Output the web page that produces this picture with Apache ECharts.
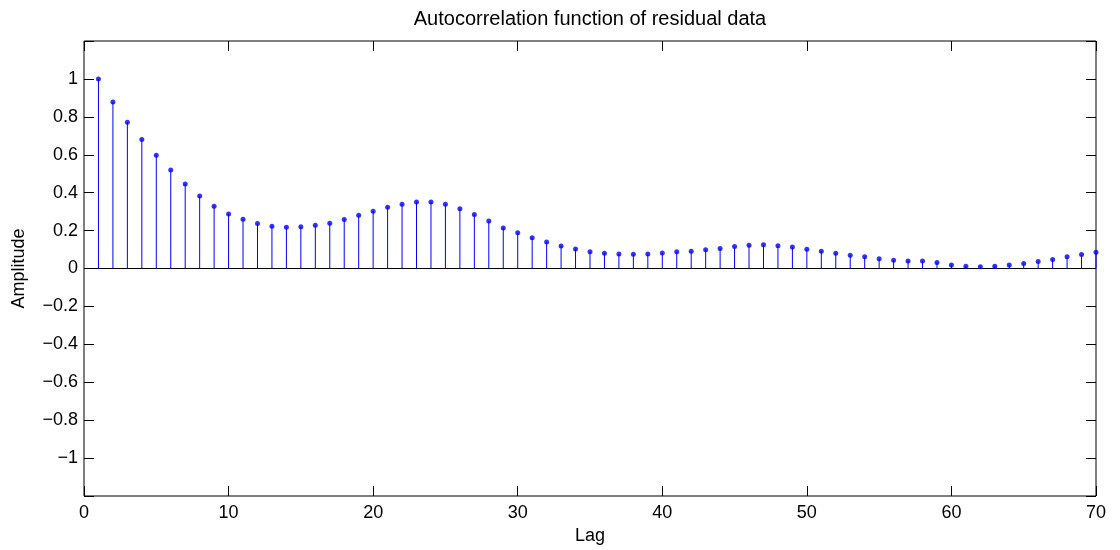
<!DOCTYPE html>
<html>
<head>
<meta charset="utf-8">
<title>Autocorrelation function of residual data</title>
<script src="https://cdn.jsdelivr.net/npm/echarts@6/dist/echarts.min.js"></script>
<style>
  html, body { margin: 0; padding: 0; background: #fff; }
  #chart { width: 1120px; height: 550px; }
</style>
</head>
<body>
<div id="chart"></div>
<script>
// Lags of the autocorrelation sequence
const lags = [
  1, 2, 3, 4, 5, 6, 7, 8, 9, 10,
  11, 12, 13, 14, 15, 16, 17, 18, 19, 20,
  21, 22, 23, 24, 25, 26, 27, 28, 29, 30,
  31, 32, 33, 34, 35, 36, 37, 38, 39, 40,
  41, 42, 43, 44, 45, 46, 47, 48, 49, 50,
  51, 52, 53, 54, 55, 56, 57, 58, 59, 60,
  61, 62, 63, 64, 65, 66, 67, 68, 69, 70
];

// Normalised autocorrelation of the residuals at each lag
const acf = [
  1.000, 0.878, 0.772, 0.681, 0.598, 0.519, 0.446, 0.383, 0.329, 0.288,
  0.260, 0.237, 0.223, 0.218, 0.220, 0.228, 0.239, 0.259, 0.281, 0.302,
  0.323, 0.339, 0.351, 0.351, 0.339, 0.315, 0.285, 0.250, 0.214, 0.188,
  0.162, 0.140, 0.119, 0.103, 0.088, 0.081, 0.077, 0.075, 0.077, 0.082,
  0.088, 0.091, 0.099, 0.106, 0.116, 0.123, 0.125, 0.120, 0.113, 0.102,
  0.091, 0.081, 0.070, 0.062, 0.051, 0.044, 0.039, 0.039, 0.032, 0.019,
  0.012, 0.009, 0.012, 0.019, 0.026, 0.037, 0.047, 0.062, 0.074, 0.086
];

const xTicks = [0, 10, 20, 30, 40, 50, 60, 70];
const yTicks = [-1, -0.8, -0.6, -0.4, -0.2, 0, 0.2, 0.4, 0.6, 0.8, 1];

const FONT = '"Liberation Sans", Arial, Helvetica, sans-serif';
const STEM = '#0000ff';

const points = lags.map((lag, i) => [lag, acf[i]]);

function yLabel(v) {
  const r = Math.round(v * 10) / 10;
  if (!yTicks.some(t => Math.abs(t - r) < 1e-9)) return '';
  return String(r).replace('-', '\u2212');
}

function xLabel(v) {
  return xTicks.indexOf(Math.round(v)) >= 0 ? String(Math.round(v)) : '';
}

const tickStyle = { show: true, inside: true, length: 10, lineStyle: { color: '#000', width: 1 } };
const noLine = { show: false, onZero: false };

const chart = echarts.init(document.getElementById('chart'), null, { renderer: 'canvas' });

chart.setOption({
  animation: false,
  backgroundColor: '#fff',
  textStyle: { fontFamily: FONT },
  grid: {
    left: 84, right: 24, top: 41, bottom: 54,
    show: true, borderColor: '#000', borderWidth: 1, backgroundColor: '#fff'
  },
  graphic: [{
    type: 'text',
    x: 590, y: 19,
    style: {
      text: 'Autocorrelation function of residual data',
      font: '20px ' + FONT,
      fill: '#000',
      align: 'center',
      verticalAlign: 'middle'
    }
  }],
  xAxis: [{
    type: 'value', position: 'bottom',
    min: 0, max: 70, interval: 10,
    axisLine: noLine,
    axisTick: tickStyle,
    splitLine: { show: false },
    axisLabel: { color: '#000', fontSize: 18, margin: 8, fontFamily: FONT, formatter: xLabel },
    name: 'Lag', nameLocation: 'middle', nameGap: 31,
    nameTextStyle: { color: '#000', fontSize: 18, fontFamily: FONT }
  }, {
    type: 'value', position: 'top',
    min: 0, max: 70, interval: 10,
    axisLine: noLine,
    axisTick: tickStyle,
    splitLine: { show: false },
    axisLabel: { show: false }
  }],
  yAxis: [{
    type: 'value', position: 'left',
    min: -1.2, max: 1.2, interval: 0.2,
    axisLine: noLine,
    axisTick: tickStyle,
    splitLine: { show: false },
    axisLabel: { color: '#000', fontSize: 18, margin: 6, fontFamily: FONT, formatter: yLabel },
    name: 'Amplitude', nameLocation: 'middle', nameGap: 56, nameRotate: 90,
    nameTextStyle: { color: '#000', fontSize: 18, fontFamily: FONT }
  }, {
    type: 'value', position: 'right',
    min: -1.2, max: 1.2, interval: 0.2,
    axisLine: noLine,
    axisTick: tickStyle,
    splitLine: { show: false },
    axisLabel: { show: false }
  }],
  series: [{
    // zero baseline across the lag range
    type: 'line',
    xAxisIndex: 0, yAxisIndex: 0,
    data: [[0, 0], [70, 0]],
    symbol: 'none',
    lineStyle: { color: '#000', width: 1 },
    silent: true, z: 2
  }, {
    // stems from the baseline to each value
    type: 'custom',
    xAxisIndex: 0, yAxisIndex: 0,
    data: points,
    z: 3,
    renderItem: function (params, api) {
      const x = api.value(0);
      const p0 = api.coord([x, 0]);
      const p1 = api.coord([x, api.value(1)]);
      return {
        type: 'line',
        shape: { x1: p0[0], y1: p0[1], x2: p1[0], y2: p1[1] },
        style: { stroke: STEM, lineWidth: 1 }
      };
    }
  }, {
    // marker at the tip of every stem
    type: 'scatter',
    xAxisIndex: 0, yAxisIndex: 0,
    data: points,
    symbol: 'circle',
    symbolSize: 5,
    itemStyle: { color: STEM },
    z: 4
  }]
});
</script>
</body>
</html>
